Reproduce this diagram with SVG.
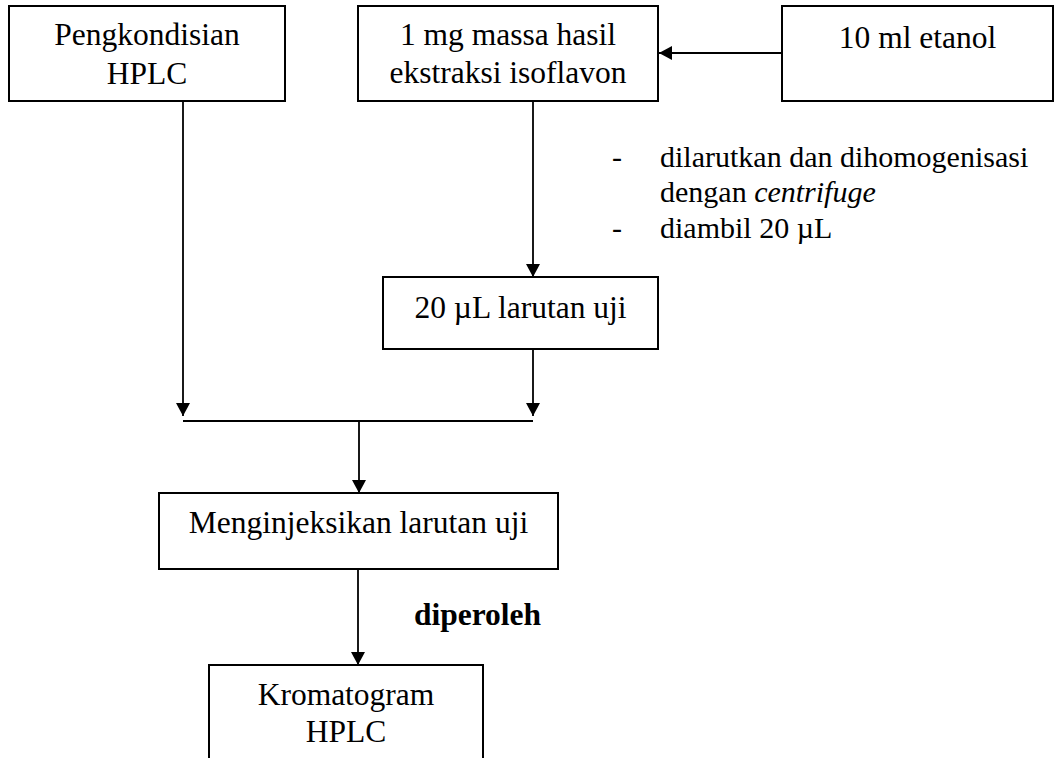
<svg xmlns="http://www.w3.org/2000/svg" width="1061" height="758" viewBox="0 0 1061 758">
<style>
.box{fill:#fff;stroke:#000;stroke-width:2}
.t{font-family:"Liberation Serif","Times New Roman",serif;font-size:31.5px;fill:#000;text-anchor:middle}
.a{font-family:"Liberation Serif","Times New Roman",serif;font-size:30px;fill:#000}
.ln{fill:none;stroke:#000;stroke-width:1.8}
</style>
<defs>
<marker id="arr" viewBox="0 0 13 14" refX="13" refY="7" markerWidth="13" markerHeight="14" markerUnits="userSpaceOnUse" orient="auto">
<path d="M0,0 L13,7 L0,14 Z" fill="#000"/>
</marker>
</defs>
<rect width="1061" height="758" fill="#fff"/>
<g id="connectors">
<line class="ln" x1="782" y1="53" x2="659" y2="53" marker-end="url(#arr)"/>
<line class="ln" x1="533" y1="101" x2="533" y2="277" marker-end="url(#arr)"/>
<line class="ln" x1="183" y1="101" x2="183" y2="416" marker-end="url(#arr)"/>
<line class="ln" x1="533" y1="349" x2="533" y2="416" marker-end="url(#arr)"/>
<line class="ln" x1="183" y1="421" x2="533" y2="421"/>
<line class="ln" x1="359" y1="421" x2="359" y2="493" marker-end="url(#arr)"/>
<line class="ln" x1="358" y1="569" x2="358" y2="665" marker-end="url(#arr)"/>
</g>
<g id="n1">
<rect class="box" x="9" y="6" width="276" height="95"/>
<text class="t" x="147" y="45">Pengkondisian</text>
<text class="t" x="147" y="84">HPLC</text>
</g>
<g id="n2">
<rect class="box" x="358" y="6" width="300" height="95"/>
<text class="t" x="508" y="45">1 mg massa hasil</text>
<text class="t" x="508" y="83">ekstraksi isoflavon</text>
</g>
<g id="n3">
<rect class="box" x="782" y="6" width="271" height="95"/>
<text class="t" x="917.5" y="48">10 ml etanol</text>
</g>
<g id="note">
<text class="a" x="612" y="167">-</text>
<text class="a" x="660" y="167">dilarutkan dan dihomogenisasi</text>
<text class="a" x="660" y="202">dengan <tspan font-style="italic">centrifuge</tspan></text>
<text class="a" x="612" y="238">-</text>
<text class="a" x="660" y="238">diambil 20 µL</text>
</g>
<g id="n4">
<rect class="box" x="383" y="277" width="275" height="72"/>
<text class="t" x="520.5" y="318">20 µL larutan uji</text>
</g>
<g id="n5">
<rect class="box" x="159" y="493" width="399" height="76"/>
<text class="t" x="358.5" y="533">Menginjeksikan larutan uji</text>
</g>
<g id="lbl">
<text class="t" x="477.5" y="625" font-weight="bold">diperoleh</text>
</g>
<g id="n6">
<rect class="box" x="209" y="665" width="274" height="110"/>
<text class="t" x="346" y="705">Kromatogram</text>
<text class="t" x="346" y="742">HPLC</text>
</g>
</svg>
